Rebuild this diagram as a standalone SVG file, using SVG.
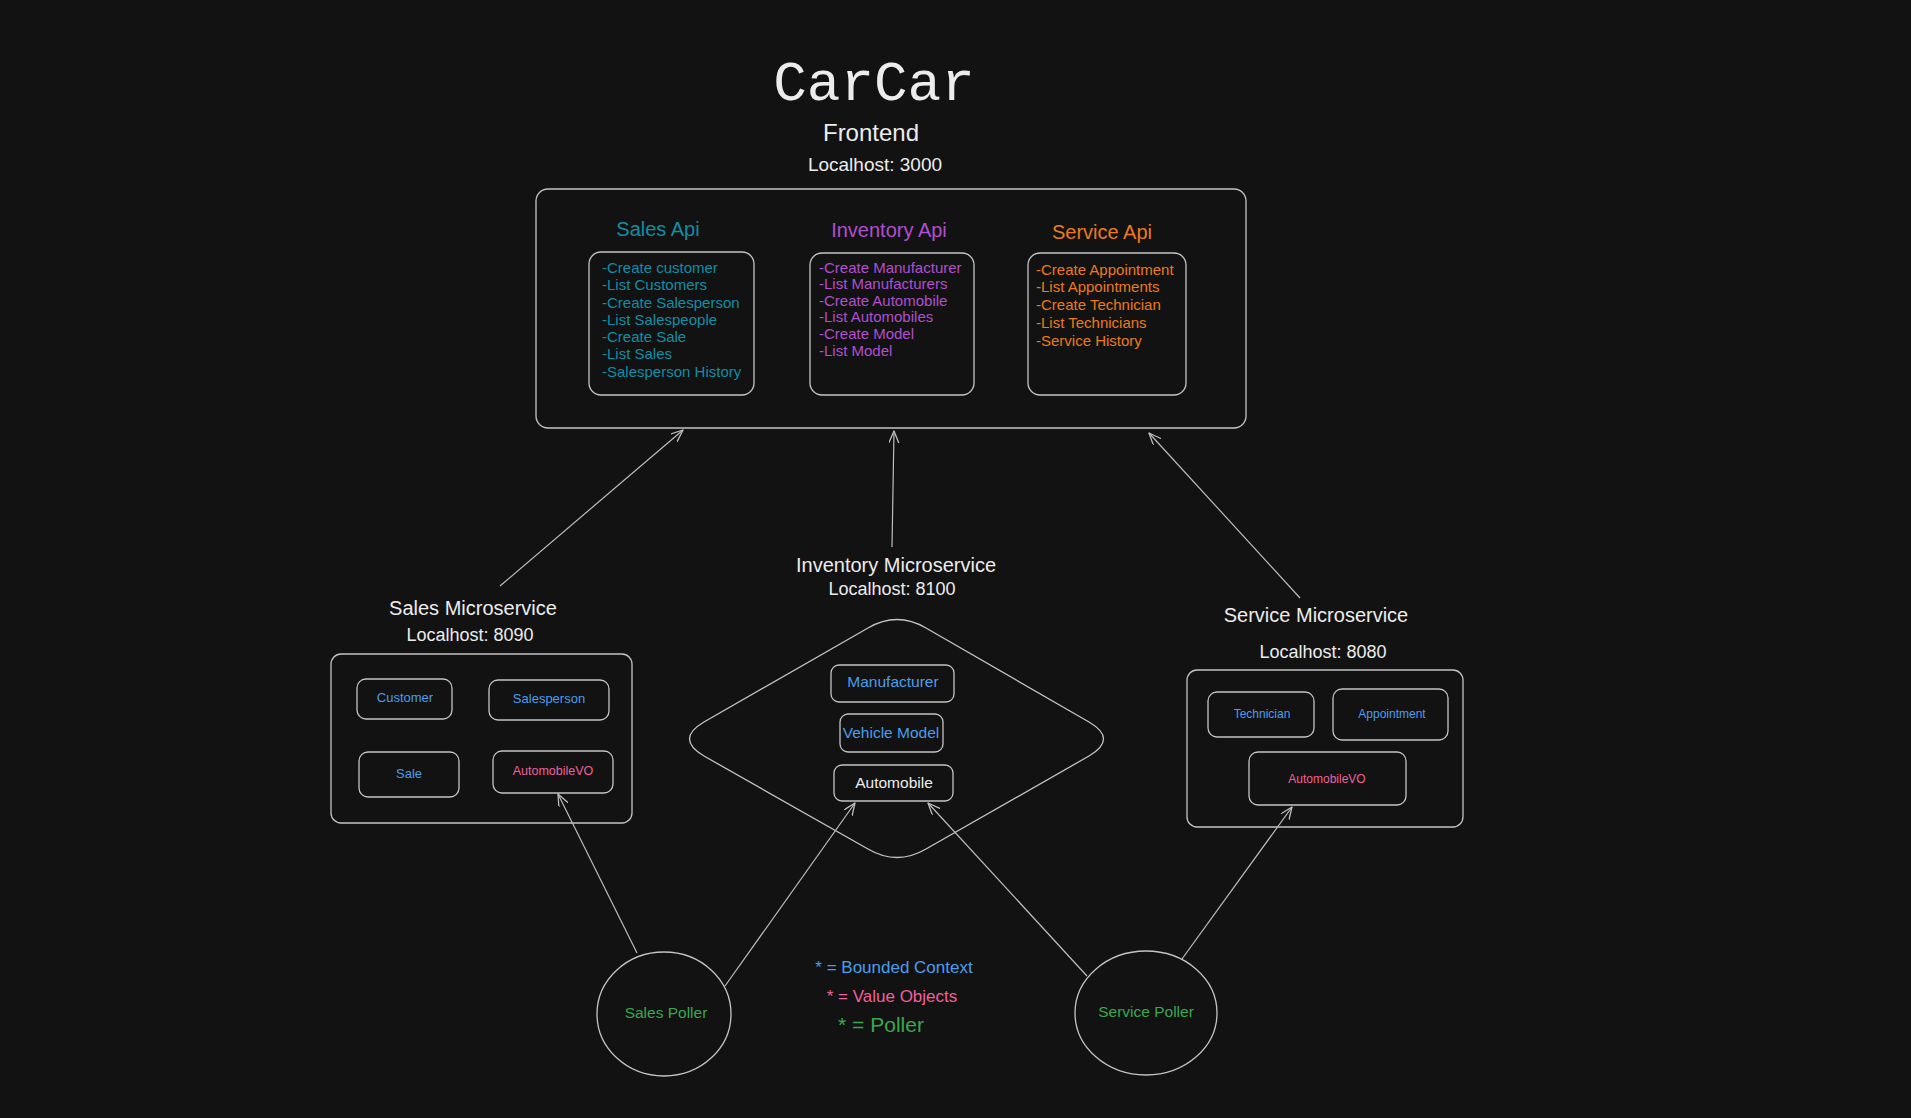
<svg xmlns="http://www.w3.org/2000/svg" width="1911" height="1118" viewBox="0 0 1911 1118">
<defs>
<marker id="ah" markerUnits="userSpaceOnUse" markerWidth="14" markerHeight="12" refX="12" refY="5" orient="auto">
<path d="M0,0 L12,5 L0,10" fill="none" stroke="#bdbdbd" stroke-width="1.3" stroke-linecap="round" stroke-linejoin="round"/>
</marker>
<style>
.box{fill:none;stroke:#c4c4c4;stroke-width:1.3}
.ln{fill:none;stroke:#bdbdbd;stroke-width:1.2}
text{font-family:"Liberation Sans",Arial,sans-serif}
.w{fill:#ececec}
.teal{fill:#0f8ea6}
.purp{fill:#b24ed0}
.orng{fill:#ec7a1a}
.blue{fill:#4a9eec}
.pink{fill:#f0609a}
.grn{fill:#3aa84e}
.mid{text-anchor:middle}
</style>
</defs>
<rect x="0" y="0" width="1911" height="1118" fill="#121212"/>

<g id="title">
<text x="874" y="100" class="w mid" style="font-family:'Liberation Mono','DejaVu Sans Mono',monospace;font-size:56px">CarCar</text>
<text x="871" y="141" class="w mid" font-size="24">Frontend</text>
<text x="875" y="171" class="w mid" font-size="19">Localhost: 3000</text>
</g>

<g id="frontend">
<rect class="box" x="536" y="189" width="710" height="239" rx="12"/>
</g>

<g id="sales-api">
<text x="658" y="236" class="teal mid" font-size="20">Sales Api</text>
<rect class="box" x="589" y="252" width="165" height="143" rx="12"/>
<text class="teal" font-size="15"><tspan x="602" y="273">-Create customer</tspan><tspan x="602" y="290">-List Customers</tspan><tspan x="602" y="308">-Create Salesperson</tspan><tspan x="602" y="325">-List Salespeople</tspan><tspan x="602" y="342">-Create Sale</tspan><tspan x="602" y="359">-List Sales</tspan><tspan x="602" y="377">-Salesperson History</tspan></text>
</g>

<g id="inventory-api">
<text x="889" y="237" class="purp mid" font-size="20">Inventory Api</text>
<rect class="box" x="810" y="253" width="164" height="142" rx="12"/>
<text class="purp" font-size="15"><tspan x="819" y="273">-Create Manufacturer</tspan><tspan x="819" y="289">-List Manufacturers</tspan><tspan x="819" y="306">-Create Automobile</tspan><tspan x="819" y="322">-List Automobiles</tspan><tspan x="819" y="339">-Create Model</tspan><tspan x="819" y="356">-List Model</tspan></text>
</g>

<g id="service-api">
<text x="1102" y="239" class="orng mid" font-size="20">Service Api</text>
<rect class="box" x="1028" y="253" width="158" height="142" rx="12"/>
<text class="orng" font-size="15"><tspan x="1036" y="275">-Create Appointment</tspan><tspan x="1036" y="292">-List Appointments</tspan><tspan x="1036" y="310">-Create Technician</tspan><tspan x="1036" y="328">-List Technicians</tspan><tspan x="1036" y="346">-Service History</tspan></text>
</g>

<g id="sales-microservice">
<text x="473" y="615" class="w mid" font-size="20">Sales Microservice</text>
<text x="470" y="641" class="w mid" font-size="18">Localhost: 8090</text>
<rect class="box" x="331" y="654" width="301" height="169" rx="10"/>
<rect class="box" x="357" y="679" width="95" height="40" rx="9"/>
<text x="405" y="702" class="blue mid" font-size="13">Customer</text>
<rect class="box" x="489" y="680" width="120" height="40" rx="9"/>
<text x="549" y="703" class="blue mid" font-size="13">Salesperson</text>
<rect class="box" x="359" y="752" width="100" height="45" rx="9"/>
<text x="409" y="778" class="blue mid" font-size="13">Sale</text>
<rect class="box" x="493" y="751" width="120" height="42" rx="9"/>
<text x="553" y="775" class="pink mid" font-size="12.5">AutomobileVO</text>
</g>

<g id="inventory-microservice">
<text x="896" y="572" class="w mid" font-size="20">Inventory Microservice</text>
<text x="892" y="595" class="w mid" font-size="18">Localhost: 8100</text>
<path class="box" d="M926,628 L1089,722 Q1118,739 1089,756 L926,849 Q897,866 868,849 L704,756 Q675,739 704,722 L868,628 Q897,611 926,628 Z"/>
<rect class="box" x="831" y="665" width="123" height="37" rx="8"/>
<text x="893" y="687" class="blue mid" font-size="15.5">Manufacturer</text>
<rect class="box" x="840" y="714" width="103" height="38" rx="8"/>
<text x="891" y="738" class="blue mid" font-size="15.5">Vehicle Model</text>
<rect class="box" x="834" y="765" width="119" height="36" rx="8"/>
<text x="894" y="788" class="w mid" font-size="15.5">Automobile</text>
</g>

<g id="service-microservice">
<text x="1316" y="622" class="w mid" font-size="20">Service Microservice</text>
<text x="1323" y="658" class="w mid" font-size="18">Localhost: 8080</text>
<rect class="box" x="1187" y="670" width="276" height="157" rx="10"/>
<rect class="box" x="1208" y="692" width="106" height="45" rx="9"/>
<text x="1262" y="718" class="blue mid" font-size="12">Technician</text>
<rect class="box" x="1333" y="689" width="115" height="51" rx="9"/>
<text x="1392" y="718" class="blue mid" font-size="12">Appointment</text>
<rect class="box" x="1249" y="752" width="157" height="53" rx="9"/>
<text x="1327" y="783" class="pink mid" font-size="12">AutomobileVO</text>
</g>

<g id="sales-poller">
<ellipse class="box" cx="664" cy="1014" rx="67" ry="62"/>
<text x="666" y="1018" class="grn mid" font-size="15.5">Sales Poller</text>
</g>

<g id="service-poller">
<ellipse class="box" cx="1146" cy="1013" rx="71" ry="62"/>
<text x="1146" y="1017" class="grn mid" font-size="15.5">Service Poller</text>
</g>

<g id="legend">
<text x="894" y="973" class="blue mid" font-size="17">* = Bounded Context</text>
<text x="892" y="1002" class="pink mid" font-size="17">* = Value Objects</text>
<text x="881" y="1032" class="grn mid" font-size="21">* = Poller</text>
</g>

<g id="connectors">
<line class="ln" x1="500" y1="586" x2="683" y2="430" marker-end="url(#ah)"/>
<line class="ln" x1="892" y1="547" x2="894" y2="431" marker-end="url(#ah)"/>
<line class="ln" x1="1300" y1="598" x2="1149" y2="433" marker-end="url(#ah)"/>
<line class="ln" x1="637" y1="953" x2="558" y2="794" marker-end="url(#ah)"/>
<line class="ln" x1="725" y1="986" x2="855" y2="803" marker-end="url(#ah)"/>
<line class="ln" x1="1087" y1="976" x2="928" y2="803" marker-end="url(#ah)"/>
<line class="ln" x1="1182" y1="959" x2="1292" y2="807" marker-end="url(#ah)"/>
</g>
</svg>
